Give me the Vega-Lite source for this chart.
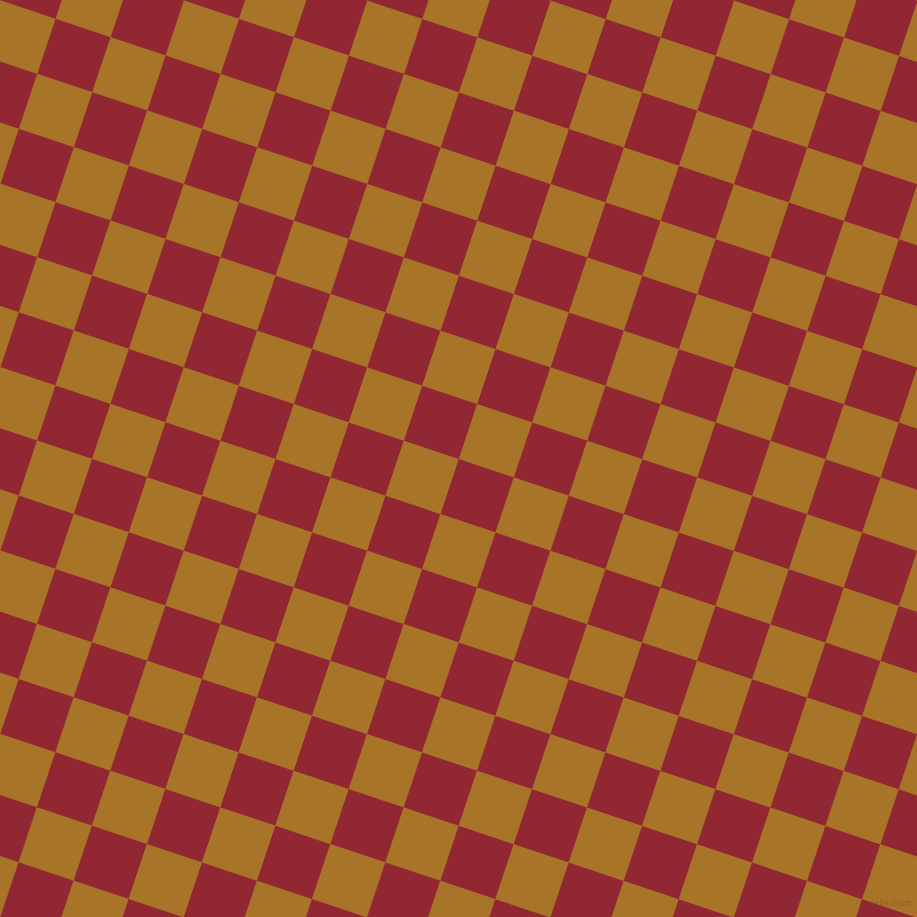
{
  "$schema": "https://vega.github.io/schema/vega-lite/v6.json",
  "width": 917,
  "height": 917,
  "autosize": {"type": "fit", "contains": "padding"},
  "padding": 0,
  "background": "#a87428",
  "config": {"view": {"stroke": null, "fill": "#a87428"}},
  "datasets": {
    "cells": [
      {"x":899.14,"y":-35.7,"c":"gold"},
      {"x":715.78,"y":-35.78,"c":"gold"},{"x":770.78,"y":-17.42,"c":"red"},{"x":825.78,"y":0.94,"c":"gold"},{"x":880.78,"y":19.3,"c":"red"},{"x":935.78,"y":37.66,"c":"gold"},
      {"x":532.42,"y":-35.86,"c":"gold"},{"x":587.42,"y":-17.5,"c":"red"},{"x":642.42,"y":0.86,"c":"gold"},{"x":697.42,"y":19.22,"c":"red"},{"x":752.42,"y":37.58,"c":"gold"},{"x":807.42,"y":55.94,"c":"red"},{"x":862.42,"y":74.3,"c":"gold"},{"x":917.42,"y":92.66,"c":"red"},
      {"x":349.06,"y":-35.94,"c":"gold"},{"x":404.06,"y":-17.58,"c":"red"},{"x":459.06,"y":0.78,"c":"gold"},{"x":514.06,"y":19.14,"c":"red"},{"x":569.06,"y":37.5,"c":"gold"},{"x":624.06,"y":55.86,"c":"red"},{"x":679.06,"y":74.22,"c":"gold"},{"x":734.06,"y":92.58,"c":"red"},{"x":789.06,"y":110.94,"c":"gold"},{"x":844.06,"y":129.3,"c":"red"},{"x":899.06,"y":147.66,"c":"gold"},
      {"x":165.7,"y":-36.02,"c":"gold"},{"x":220.7,"y":-17.66,"c":"red"},{"x":275.7,"y":0.7,"c":"gold"},{"x":330.7,"y":19.06,"c":"red"},{"x":385.7,"y":37.42,"c":"gold"},{"x":440.7,"y":55.78,"c":"red"},{"x":495.7,"y":74.14,"c":"gold"},{"x":550.7,"y":92.5,"c":"red"},{"x":605.7,"y":110.86,"c":"gold"},{"x":660.7,"y":129.22,"c":"red"},{"x":715.7,"y":147.58,"c":"gold"},{"x":770.7,"y":165.94,"c":"red"},{"x":825.7,"y":184.3,"c":"gold"},{"x":880.7,"y":202.66,"c":"red"},{"x":935.7,"y":221.02,"c":"gold"},
      {"x":-17.66,"y":-36.1,"c":"gold"},{"x":37.34,"y":-17.74,"c":"red"},{"x":92.34,"y":0.62,"c":"gold"},{"x":147.34,"y":18.98,"c":"red"},{"x":202.34,"y":37.34,"c":"gold"},{"x":257.34,"y":55.7,"c":"red"},{"x":312.34,"y":74.06,"c":"gold"},{"x":367.34,"y":92.42,"c":"red"},{"x":422.34,"y":110.78,"c":"gold"},{"x":477.34,"y":129.14,"c":"red"},{"x":532.34,"y":147.5,"c":"gold"},{"x":587.34,"y":165.86,"c":"red"},{"x":642.34,"y":184.22,"c":"gold"},{"x":697.34,"y":202.58,"c":"red"},{"x":752.34,"y":220.94,"c":"gold"},{"x":807.34,"y":239.3,"c":"red"},{"x":862.34,"y":257.66,"c":"gold"},{"x":917.34,"y":276.02,"c":"red"},
      {"x":-36.02,"y":18.9,"c":"red"},{"x":18.98,"y":37.26,"c":"gold"},{"x":73.98,"y":55.62,"c":"red"},{"x":128.98,"y":73.98,"c":"gold"},{"x":183.98,"y":92.34,"c":"red"},{"x":238.98,"y":110.7,"c":"gold"},{"x":293.98,"y":129.06,"c":"red"},{"x":348.98,"y":147.42,"c":"gold"},{"x":403.98,"y":165.78,"c":"red"},{"x":458.98,"y":184.14,"c":"gold"},{"x":513.98,"y":202.5,"c":"red"},{"x":568.98,"y":220.86,"c":"gold"},{"x":623.98,"y":239.22,"c":"red"},{"x":678.98,"y":257.58,"c":"gold"},{"x":733.98,"y":275.94,"c":"red"},{"x":788.98,"y":294.3,"c":"gold"},{"x":843.98,"y":312.66,"c":"red"},{"x":898.98,"y":331.02,"c":"gold"},
      {"x":0.62,"y":92.26,"c":"red"},{"x":55.62,"y":110.62,"c":"gold"},{"x":110.62,"y":128.98,"c":"red"},{"x":165.62,"y":147.34,"c":"gold"},{"x":220.62,"y":165.7,"c":"red"},{"x":275.62,"y":184.06,"c":"gold"},{"x":330.62,"y":202.42,"c":"red"},{"x":385.62,"y":220.78,"c":"gold"},{"x":440.62,"y":239.14,"c":"red"},{"x":495.62,"y":257.5,"c":"gold"},{"x":550.62,"y":275.86,"c":"red"},{"x":605.62,"y":294.22,"c":"gold"},{"x":660.62,"y":312.58,"c":"red"},{"x":715.62,"y":330.94,"c":"gold"},{"x":770.62,"y":349.3,"c":"red"},{"x":825.62,"y":367.66,"c":"gold"},{"x":880.62,"y":386.02,"c":"red"},{"x":935.62,"y":404.38,"c":"gold"},
      {"x":-17.74,"y":147.26,"c":"gold"},{"x":37.26,"y":165.62,"c":"red"},{"x":92.26,"y":183.98,"c":"gold"},{"x":147.26,"y":202.34,"c":"red"},{"x":202.26,"y":220.7,"c":"gold"},{"x":257.26,"y":239.06,"c":"red"},{"x":312.26,"y":257.42,"c":"gold"},{"x":367.26,"y":275.78,"c":"red"},{"x":422.26,"y":294.14,"c":"gold"},{"x":477.26,"y":312.5,"c":"red"},{"x":532.26,"y":330.86,"c":"gold"},{"x":587.26,"y":349.22,"c":"red"},{"x":642.26,"y":367.58,"c":"gold"},{"x":697.26,"y":385.94,"c":"red"},{"x":752.26,"y":404.3,"c":"gold"},{"x":807.26,"y":422.66,"c":"red"},{"x":862.26,"y":441.02,"c":"gold"},{"x":917.26,"y":459.38,"c":"red"},
      {"x":-36.1,"y":202.26,"c":"red"},{"x":18.9,"y":220.62,"c":"gold"},{"x":73.9,"y":238.98,"c":"red"},{"x":128.9,"y":257.34,"c":"gold"},{"x":183.9,"y":275.7,"c":"red"},{"x":238.9,"y":294.06,"c":"gold"},{"x":293.9,"y":312.42,"c":"red"},{"x":348.9,"y":330.78,"c":"gold"},{"x":403.9,"y":349.14,"c":"red"},{"x":458.9,"y":367.5,"c":"gold"},{"x":513.9,"y":385.86,"c":"red"},{"x":568.9,"y":404.22,"c":"gold"},{"x":623.9,"y":422.58,"c":"red"},{"x":678.9,"y":440.94,"c":"gold"},{"x":733.9,"y":459.3,"c":"red"},{"x":788.9,"y":477.66,"c":"gold"},{"x":843.9,"y":496.02,"c":"red"},{"x":898.9,"y":514.38,"c":"gold"},
      {"x":0.54,"y":275.62,"c":"red"},{"x":55.54,"y":293.98,"c":"gold"},{"x":110.54,"y":312.34,"c":"red"},{"x":165.54,"y":330.7,"c":"gold"},{"x":220.54,"y":349.06,"c":"red"},{"x":275.54,"y":367.42,"c":"gold"},{"x":330.54,"y":385.78,"c":"red"},{"x":385.54,"y":404.14,"c":"gold"},{"x":440.54,"y":422.5,"c":"red"},{"x":495.54,"y":440.86,"c":"gold"},{"x":550.54,"y":459.22,"c":"red"},{"x":605.54,"y":477.58,"c":"gold"},{"x":660.54,"y":495.94,"c":"red"},{"x":715.54,"y":514.3,"c":"gold"},{"x":770.54,"y":532.66,"c":"red"},{"x":825.54,"y":551.02,"c":"gold"},{"x":880.54,"y":569.38,"c":"red"},{"x":935.54,"y":587.74,"c":"gold"},
      {"x":-17.82,"y":330.62,"c":"gold"},{"x":37.18,"y":348.98,"c":"red"},{"x":92.18,"y":367.34,"c":"gold"},{"x":147.18,"y":385.7,"c":"red"},{"x":202.18,"y":404.06,"c":"gold"},{"x":257.18,"y":422.42,"c":"red"},{"x":312.18,"y":440.78,"c":"gold"},{"x":367.18,"y":459.14,"c":"red"},{"x":422.18,"y":477.5,"c":"gold"},{"x":477.18,"y":495.86,"c":"red"},{"x":532.18,"y":514.22,"c":"gold"},{"x":587.18,"y":532.58,"c":"red"},{"x":642.18,"y":550.94,"c":"gold"},{"x":697.18,"y":569.3,"c":"red"},{"x":752.18,"y":587.66,"c":"gold"},{"x":807.18,"y":606.02,"c":"red"},{"x":862.18,"y":624.38,"c":"gold"},{"x":917.18,"y":642.74,"c":"red"},
      {"x":-36.18,"y":385.62,"c":"red"},{"x":18.82,"y":403.98,"c":"gold"},{"x":73.82,"y":422.34,"c":"red"},{"x":128.82,"y":440.7,"c":"gold"},{"x":183.82,"y":459.06,"c":"red"},{"x":238.82,"y":477.42,"c":"gold"},{"x":293.82,"y":495.78,"c":"red"},{"x":348.82,"y":514.14,"c":"gold"},{"x":403.82,"y":532.5,"c":"red"},{"x":458.82,"y":550.86,"c":"gold"},{"x":513.82,"y":569.22,"c":"red"},{"x":568.82,"y":587.58,"c":"gold"},{"x":623.82,"y":605.94,"c":"red"},{"x":678.82,"y":624.3,"c":"gold"},{"x":733.82,"y":642.66,"c":"red"},{"x":788.82,"y":661.02,"c":"gold"},{"x":843.82,"y":679.38,"c":"red"},{"x":898.82,"y":697.74,"c":"gold"},
      {"x":0.46,"y":458.98,"c":"red"},{"x":55.46,"y":477.34,"c":"gold"},{"x":110.46,"y":495.7,"c":"red"},{"x":165.46,"y":514.06,"c":"gold"},{"x":220.46,"y":532.42,"c":"red"},{"x":275.46,"y":550.78,"c":"gold"},{"x":330.46,"y":569.14,"c":"red"},{"x":385.46,"y":587.5,"c":"gold"},{"x":440.46,"y":605.86,"c":"red"},{"x":495.46,"y":624.22,"c":"gold"},{"x":550.46,"y":642.58,"c":"red"},{"x":605.46,"y":660.94,"c":"gold"},{"x":660.46,"y":679.3,"c":"red"},{"x":715.46,"y":697.66,"c":"gold"},{"x":770.46,"y":716.02,"c":"red"},{"x":825.46,"y":734.38,"c":"gold"},{"x":880.46,"y":752.74,"c":"red"},{"x":935.46,"y":771.1,"c":"gold"},
      {"x":-17.9,"y":513.98,"c":"gold"},{"x":37.1,"y":532.34,"c":"red"},{"x":92.1,"y":550.7,"c":"gold"},{"x":147.1,"y":569.06,"c":"red"},{"x":202.1,"y":587.42,"c":"gold"},{"x":257.1,"y":605.78,"c":"red"},{"x":312.1,"y":624.14,"c":"gold"},{"x":367.1,"y":642.5,"c":"red"},{"x":422.1,"y":660.86,"c":"gold"},{"x":477.1,"y":679.22,"c":"red"},{"x":532.1,"y":697.58,"c":"gold"},{"x":587.1,"y":715.94,"c":"red"},{"x":642.1,"y":734.3,"c":"gold"},{"x":697.1,"y":752.66,"c":"red"},{"x":752.1,"y":771.02,"c":"gold"},{"x":807.1,"y":789.38,"c":"red"},{"x":862.1,"y":807.74,"c":"gold"},{"x":917.1,"y":826.1,"c":"red"},
      {"x":-36.26,"y":568.98,"c":"red"},{"x":18.74,"y":587.34,"c":"gold"},{"x":73.74,"y":605.7,"c":"red"},{"x":128.74,"y":624.06,"c":"gold"},{"x":183.74,"y":642.42,"c":"red"},{"x":238.74,"y":660.78,"c":"gold"},{"x":293.74,"y":679.14,"c":"red"},{"x":348.74,"y":697.5,"c":"gold"},{"x":403.74,"y":715.86,"c":"red"},{"x":458.74,"y":734.22,"c":"gold"},{"x":513.74,"y":752.58,"c":"red"},{"x":568.74,"y":770.94,"c":"gold"},{"x":623.74,"y":789.3,"c":"red"},{"x":678.74,"y":807.66,"c":"gold"},{"x":733.74,"y":826.02,"c":"red"},{"x":788.74,"y":844.38,"c":"gold"},{"x":843.74,"y":862.74,"c":"red"},{"x":898.74,"y":881.1,"c":"gold"},
      {"x":0.38,"y":642.34,"c":"red"},{"x":55.38,"y":660.7,"c":"gold"},{"x":110.38,"y":679.06,"c":"red"},{"x":165.38,"y":697.42,"c":"gold"},{"x":220.38,"y":715.78,"c":"red"},{"x":275.38,"y":734.14,"c":"gold"},{"x":330.38,"y":752.5,"c":"red"},{"x":385.38,"y":770.86,"c":"gold"},{"x":440.38,"y":789.22,"c":"red"},{"x":495.38,"y":807.58,"c":"gold"},{"x":550.38,"y":825.94,"c":"red"},{"x":605.38,"y":844.3,"c":"gold"},{"x":660.38,"y":862.66,"c":"red"},{"x":715.38,"y":881.02,"c":"gold"},{"x":770.38,"y":899.38,"c":"red"},{"x":825.38,"y":917.74,"c":"gold"},{"x":880.38,"y":936.1,"c":"red"},
      {"x":-17.98,"y":697.34,"c":"gold"},{"x":37.02,"y":715.7,"c":"red"},{"x":92.02,"y":734.06,"c":"gold"},{"x":147.02,"y":752.42,"c":"red"},{"x":202.02,"y":770.78,"c":"gold"},{"x":257.02,"y":789.14,"c":"red"},{"x":312.02,"y":807.5,"c":"gold"},{"x":367.02,"y":825.86,"c":"red"},{"x":422.02,"y":844.22,"c":"gold"},{"x":477.02,"y":862.58,"c":"red"},{"x":532.02,"y":880.94,"c":"gold"},{"x":587.02,"y":899.3,"c":"red"},{"x":642.02,"y":917.66,"c":"gold"},{"x":697.02,"y":936.02,"c":"red"},
      {"x":-36.34,"y":752.34,"c":"red"},{"x":18.66,"y":770.7,"c":"gold"},{"x":73.66,"y":789.06,"c":"red"},{"x":128.66,"y":807.42,"c":"gold"},{"x":183.66,"y":825.78,"c":"red"},{"x":238.66,"y":844.14,"c":"gold"},{"x":293.66,"y":862.5,"c":"red"},{"x":348.66,"y":880.86,"c":"gold"},{"x":403.66,"y":899.22,"c":"red"},{"x":458.66,"y":917.58,"c":"gold"},{"x":513.66,"y":935.94,"c":"red"},
      {"x":0.3,"y":825.7,"c":"red"},{"x":55.3,"y":844.06,"c":"gold"},{"x":110.3,"y":862.42,"c":"red"},{"x":165.3,"y":880.78,"c":"gold"},{"x":220.3,"y":899.14,"c":"red"},{"x":275.3,"y":917.5,"c":"gold"},{"x":330.3,"y":935.86,"c":"red"},
      {"x":-18.06,"y":880.7,"c":"gold"},{"x":36.94,"y":899.06,"c":"red"},{"x":91.94,"y":917.42,"c":"gold"},{"x":146.94,"y":935.78,"c":"red"},
      {"x":-36.42,"y":935.7,"c":"red"}
    ],
    "mark": [
      {"x":911,"y":903,"label":"pixlis.com"}
    ]
  },
  "layer": [
    {
      "data": {"name": "cells"},
      "mark": {"type": "point", "shape": "square", "filled": true, "opacity": 1, "angle": 18.46, "size": 3376, "strokeWidth": 0, "clip": true},
      "encoding": {
        "x": {"field": "x", "type": "quantitative", "scale": {"domain": [0, 917], "nice": false, "zero": false}, "axis": null},
        "y": {"field": "y", "type": "quantitative", "scale": {"domain": [0, 917], "nice": false, "zero": false, "reverse": true}, "axis": null},
        "color": {"field": "c", "type": "nominal", "scale": {"domain": ["red", "gold"], "range": ["#912733", "#a87428"]}, "legend": null}
      }
    },
    {
      "data": {"name": "mark"},
      "mark": {"type": "text", "align": "right", "baseline": "middle", "fontSize": 9, "font": "DejaVu Sans", "color": "#8c3a2c", "opacity": 0.45},
      "encoding": {
        "x": {"field": "x", "type": "quantitative"},
        "y": {"field": "y", "type": "quantitative"},
        "text": {"field": "label"}
      }
    }
  ]
}
